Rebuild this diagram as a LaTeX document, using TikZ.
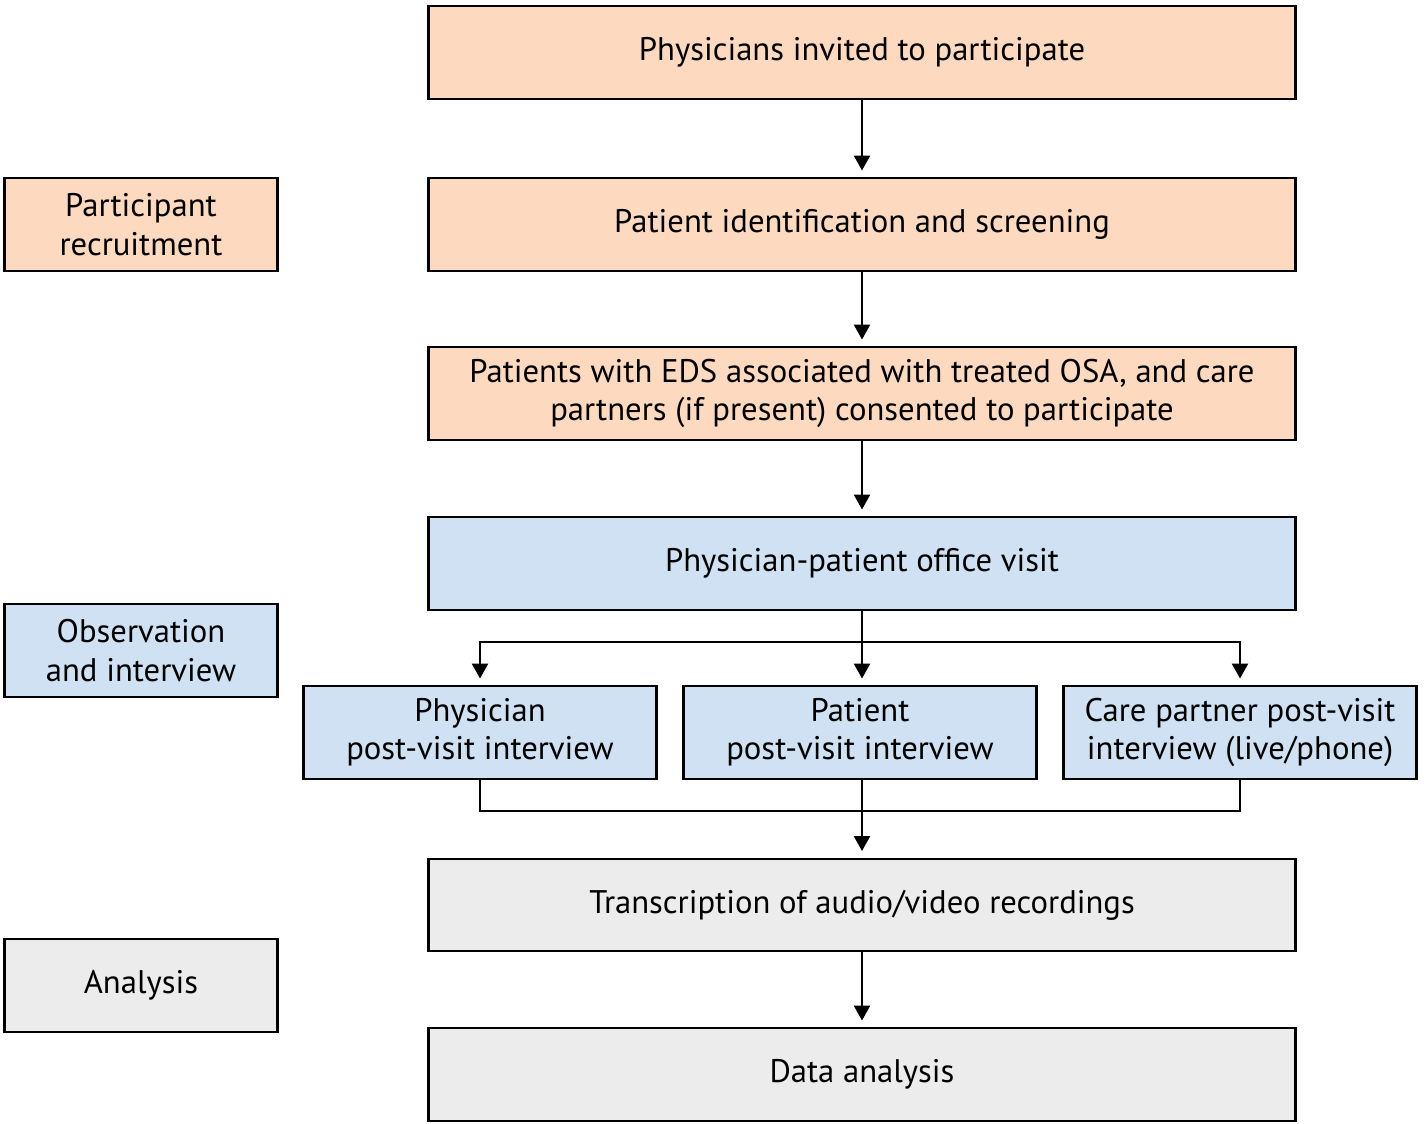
\documentclass[tikz,border=0pt]{standalone}
\usepackage{fontspec}
\setmainfont{PT Sans}
\usepackage{tikz}
\usetikzlibrary{arrows.meta}
\definecolor{peach}{RGB}{253,217,191}
\definecolor{paleblue}{RGB}{208,225,243}
\definecolor{palegray}{RGB}{236,236,236}
\tikzstyle{stepbox} = [rectangle, draw=black, line width=1.4pt, text centered, align=center, minimum height=1.85cm, inner sep=0pt, font=\fontsize{18.6}{21.8}\selectfont]
\tikzstyle{mainbox} = [stepbox, minimum width=17.35cm]
\tikzstyle{subbox} = [stepbox, minimum width=7.07cm]
\tikzstyle{sidebox} = [stepbox, minimum width=5.47cm]
\tikzstyle{arrow} = [line width=1.4pt, -{Triangle[length=0.3cm,width=0.32cm]}, shorten >=0.13cm]
\tikzstyle{line} = [line width=1.4pt]

\begin{document}
\begin{tikzpicture}[x=0.02cm, y=-0.02cm]
    \useasboundingbox (0,0) rectangle (1424,1124);
    % left column
    \node (Recruit) [sidebox, fill=peach] at (141,224.5) {Participant\\recruitment};
    \node (Observe) [sidebox, fill=paleblue] at (141,650.5) {Observation\\and interview};
    \node (Analyse) [sidebox, fill=palegray] at (141,985.5) {Analysis};
    % main column
    \node (Invite) [mainbox, fill=peach] at (862,52.5) {Physicians invited to participate};
    \node (Screen) [mainbox, fill=peach] at (862,224.5) {Patient identification and screening};
    \node (Consent) [mainbox, fill=peach] at (862,393.5) {Patients with EDS associated with treated OSA, and care\\partners (if present) consented to participate};
    \node (Visit) [mainbox, fill=paleblue] at (862,563.5) {Physician-patient office visit};
    \node (PhysInt) [subbox, fill=paleblue] at (480,732.5) {Physician\\post-visit interview};
    \node (PatInt) [subbox, fill=paleblue] at (860,732.5) {Patient\\post-visit interview};
    \node (CareInt) [subbox, fill=paleblue] at (1240,732.5) {Care partner post-visit\\interview (live/phone)};
    \node (Transcr) [mainbox, fill=palegray] at (862,905) {Transcription of audio/video recordings};
    \node (Data) [mainbox, fill=palegray] at (862,1074.5) {Data analysis};
    \coordinate (Split) at (862,642);
    \coordinate (Merge) at (862,811);
    \draw [arrow] (Invite) -- (Screen);
    \draw [arrow] (Screen) -- (Consent);
    \draw [arrow] (Consent) -- (Visit);
    \draw [line] (Visit) -- (Split);
    \draw [arrow] (Split) -| (PhysInt);
    \draw [arrow] (Split) -- (Split |- PatInt.north);
    \draw [arrow] (Split) -| (CareInt);
    \draw [line] (PhysInt) |- (Merge);
    \draw [line] (CareInt) |- (Merge);
    \draw [line] (PatInt.south -| Merge) -- (Merge);
    \draw [arrow] (Merge) -- (Transcr);
    \draw [arrow] (Transcr) -- (Data);
\end{tikzpicture}
\end{document}
